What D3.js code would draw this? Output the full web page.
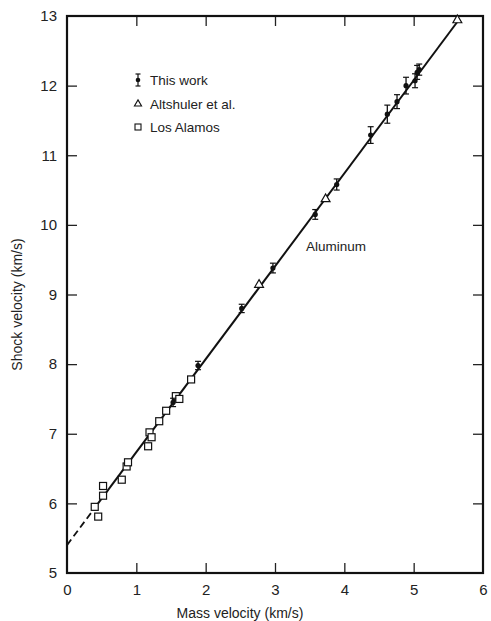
<!DOCTYPE html>
<html>
<head>
<meta charset="utf-8">
<script src="https://cdn.jsdelivr.net/npm/d3@7"></script>
<style>
  body { margin: 0; background: #fff; }
  text { font-family: "Liberation Sans", Arial, sans-serif; fill: #222; }
</style>
</head>
<body>
<div id="chart"></div>
<script>
// Shock velocity vs mass velocity, aluminum

const thisWorkU   = [1.53, 1.89, 2.52, 2.97, 3.58, 3.89, 4.38, 4.62, 4.76, 4.89, 5.02, 5.05, 5.08];
const thisWorkUs  = [7.45, 7.98, 8.80, 9.38, 10.15, 10.58, 11.29, 11.59, 11.77, 12.00, 12.07, 12.19, 12.23];
const thisWorkErr = [0.06, 0.06, 0.06, 0.07, 0.07, 0.08, 0.12, 0.13, 0.10, 0.12, 0.10, 0.10, 0.08];

const altshulerU  = [2.77, 3.73, 5.63];
const altshulerUs = [9.14, 10.37, 12.94];

const losAlamosU  = [0.40, 0.45, 0.52, 0.52, 0.79, 0.86, 0.88, 1.17, 1.19, 1.22, 1.33, 1.43, 1.57, 1.62, 1.79];
const losAlamosUs = [5.95, 5.81, 6.11, 6.25, 6.34, 6.53, 6.59, 6.82, 7.02, 6.95, 7.18, 7.33, 7.54, 7.50, 7.78];

const fitIntercept = 5.40, fitSlope = 1.335;   // Us = c0 + s*up
const fitDashEnd = 0.40, fitEnd = 5.65;

const xTicks = [0, 1, 2, 3, 4, 5, 6];
const yTicks = [5, 6, 7, 8, 9, 10, 11, 12, 13];
const legendLabels = ["This work", "Altshuler et al.", "Los Alamos"];

const width = 491, height = 621;
const margin = { left: 67, right: 8, top: 16, bottom: 48 };

const x = d3.scaleLinear().domain([0, 6]).range([margin.left, width - margin.right]);
const y = d3.scaleLinear().domain([5, 13]).range([height - margin.bottom, margin.top]);

const svg = d3.select("#chart").append("svg")
    .attr("width", width)
    .attr("height", height);

// frame ticks on all four sides, pointing inward
const tickLen = 10;
svg.append("g")
    .attr("transform", `translate(0,${y(5)})`)
    .call(d3.axisBottom(x).tickValues(xTicks).tickSizeInner(-tickLen).tickSizeOuter(0).tickPadding(8).tickFormat(d3.format("d")))
    .call(g => g.select(".domain").remove())
    .call(g => g.selectAll(".tick line").filter(d => d === 0 || d === 6).remove())
    .call(g => g.selectAll("text").attr("font-size", 15).attr("dy", "0.9em"));
svg.append("g")
    .attr("transform", `translate(0,${y(13)})`)
    .call(d3.axisTop(x).tickValues(xTicks.slice(1, -1)).tickSizeInner(-tickLen).tickSizeOuter(0).tickFormat(""))
    .call(g => g.select(".domain").remove());
svg.append("g")
    .attr("transform", `translate(${x(0)},0)`)
    .call(d3.axisLeft(y).tickValues(yTicks).tickSizeInner(-tickLen).tickSizeOuter(0).tickPadding(10))
    .call(g => g.select(".domain").remove())
    .call(g => g.selectAll(".tick line").filter(d => d === 5 || d === 13).remove())
    .call(g => g.selectAll("text").attr("font-size", 15));
svg.append("g")
    .attr("transform", `translate(${x(6)},0)`)
    .call(d3.axisRight(y).tickValues(yTicks.slice(1, -1)).tickSizeInner(-tickLen).tickSizeOuter(0).tickFormat(""))
    .call(g => g.select(".domain").remove());

svg.selectAll(".tick line").attr("stroke", "#222").attr("stroke-width", 1.3);

svg.append("rect")
    .attr("x", x(0)).attr("y", y(13))
    .attr("width", x(6) - x(0)).attr("height", y(5) - y(13))
    .attr("fill", "none").attr("stroke", "#111").attr("stroke-width", 2.2);

// axis titles
svg.append("text")
    .attr("x", (x(0) + x(6)) / 2 - 35).attr("y", height - 3)
    .attr("text-anchor", "middle").attr("font-size", 14)
    .text("Mass velocity (km/s)");
svg.append("text")
    .attr("transform", `translate(22,${(y(5) + y(13)) / 2 + 10}) rotate(-90)`)
    .attr("text-anchor", "middle").attr("font-size", 14)
    .text("Shock velocity (km/s)");

// fit line: dashed extrapolation then solid
const fit = u => fitIntercept + fitSlope * u;
svg.append("line")
    .attr("x1", x(0)).attr("y1", y(fit(0)))
    .attr("x2", x(fitDashEnd)).attr("y2", y(fit(fitDashEnd)))
    .attr("stroke", "#111").attr("stroke-width", 1.8).attr("stroke-dasharray", "7,4");
svg.append("line")
    .attr("x1", x(fitDashEnd)).attr("y1", y(fit(fitDashEnd)))
    .attr("x2", x(fitEnd)).attr("y2", y(fit(fitEnd)))
    .attr("stroke", "#111").attr("stroke-width", 2);

// Los Alamos: open squares
svg.append("g").selectAll("rect")
    .data(d3.zip(losAlamosU, losAlamosUs))
    .join("rect")
    .attr("x", d => x(d[0]) - 3.5).attr("y", d => y(d[1]) - 3.5)
    .attr("width", 7).attr("height", 7)
    .attr("fill", "#fff").attr("stroke", "#111").attr("stroke-width", 1.2);

// Altshuler: open triangles
const tri = d3.symbol().type(d3.symbolTriangle).size(34);
svg.append("g").selectAll("path")
    .data(d3.zip(altshulerU, altshulerUs))
    .join("path")
    .attr("transform", d => `translate(${x(d[0])},${y(d[1])})`)
    .attr("d", tri)
    .attr("fill", "#fff").attr("stroke", "#111").attr("stroke-width", 1.2);

// This work: filled points with error bars
const tw = svg.append("g").selectAll("g")
    .data(thisWorkU.map((u, i) => ({ u, v: thisWorkUs[i], e: thisWorkErr[i] })))
    .join("g");
tw.append("line")
    .attr("x1", d => x(d.u)).attr("x2", d => x(d.u))
    .attr("y1", d => y(d.v - d.e)).attr("y2", d => y(d.v + d.e))
    .attr("stroke", "#111").attr("stroke-width", 1.3);
tw.selectAll(".cap")
    .data(d => [d.v - d.e, d.v + d.e].map(v => ({ u: d.u, v })))
    .join("line")
    .attr("class", "cap")
    .attr("x1", d => x(d.u) - 3).attr("x2", d => x(d.u) + 3)
    .attr("y1", d => y(d.v)).attr("y2", d => y(d.v))
    .attr("stroke", "#111").attr("stroke-width", 1.2);
tw.append("circle")
    .attr("cx", d => x(d.u)).attr("cy", d => y(d.v))
    .attr("r", 2.6).attr("fill", "#111");

// legend
const lgX = 138, lgY = [80, 104, 127];
const lg = svg.append("g");
lg.append("line").attr("x1", lgX).attr("x2", lgX).attr("y1", lgY[0] - 6).attr("y2", lgY[0] + 6)
    .attr("stroke", "#111").attr("stroke-width", 1.2);
[lgY[0] - 6, lgY[0] + 6].forEach(v => lg.append("line")
    .attr("x1", lgX - 2.5).attr("x2", lgX + 2.5).attr("y1", v).attr("y2", v)
    .attr("stroke", "#111").attr("stroke-width", 1.2));
lg.append("circle").attr("cx", lgX).attr("cy", lgY[0]).attr("r", 2.3).attr("fill", "#111");
lg.append("path").attr("transform", `translate(${lgX},${lgY[1]})`)
    .attr("d", d3.symbol().type(d3.symbolTriangle).size(22))
    .attr("fill", "#fff").attr("stroke", "#111").attr("stroke-width", 1.1);
lg.append("rect").attr("x", lgX - 3).attr("y", lgY[2] - 3).attr("width", 6).attr("height", 6)
    .attr("fill", "#fff").attr("stroke", "#111").attr("stroke-width", 1.1);
lg.selectAll("text")
    .data(legendLabels)
    .join("text")
    .attr("x", lgX + 12).attr("y", (d, i) => lgY[i])
    .attr("dy", "0.35em").attr("font-size", 13.5)
    .text(d => d);

svg.append("text")
    .attr("x", 306).attr("y", 246).attr("dy", "0.35em")
    .attr("font-size", 13.5)
    .text("Aluminum");
</script>
</body>
</html>
